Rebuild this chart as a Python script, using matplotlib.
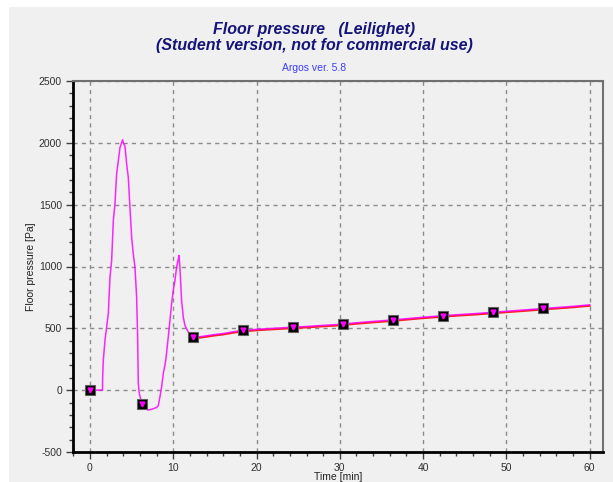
import matplotlib
matplotlib.use("Agg")
import matplotlib.pyplot as plt
from matplotlib.patches import Rectangle
from matplotlib.ticker import MultipleLocator

# floor pressure trace [min, Pa]
time_min = [0, 1.5, 1.52, 1.6, 1.8, 2.0, 2.2, 2.4, 2.6, 2.8, 3.0, 3.2, 3.4, 3.6, 3.8,
            3.92, 4.0, 4.2, 4.4, 4.6, 4.8, 5.0, 5.2, 5.4, 5.6, 5.72, 5.8, 5.92, 6.2,
            6.6, 7.0, 7.6, 8.0, 8.2, 8.4, 8.6, 8.8, 9.1, 9.4, 9.6, 9.8, 10.0, 10.2,
            10.4, 10.6, 10.68, 10.8, 11.0, 11.2, 11.4, 11.8, 12.4, 13.0, 14.0, 15.0,
            16.0, 17.0, 18.0, 20.0, 22.0, 24.0, 26.0, 28.0, 30.0, 32.0, 34.0, 36.0,
            38.0, 40.0, 42.0, 44.0, 46.0, 48.0, 50.0, 52.0, 54.0, 56.0, 58.0, 60.0]
pressure_pa = [0, 0, 107, 242, 403, 510, 620, 913, 1048, 1370, 1507, 1749, 1854, 1961, 2001,
               2025, 2000, 1975, 1830, 1720, 1477, 1236, 1102, 994, 752, 430, 55, -27, -100,
               -145, -161, -150, -140, -125, -54, 27, 134, 242, 430, 564, 698, 806, 886,
               994, 1060, 1090, 994, 725, 591, 524, 470, 438, 430, 440, 450,
               458, 470, 480, 492, 500, 508, 515, 524, 532, 545, 556, 566,
               578, 590, 600, 610, 618, 628, 638, 648, 658, 668, 678, 690]

# second sensor, settled part only
ref_time_min = [12.4, 13.0, 14.0, 15.0, 16.0, 17.0, 18.0, 20.0, 22.0, 24.0, 26.0, 28.0,
                30.0, 32.0, 34.0, 36.0, 38.0, 40.0, 42.0, 44.0, 46.0, 48.0, 50.0, 52.0,
                54.0, 56.0, 58.0, 60.0]
ref_pressure_pa = [430, 422, 432, 442, 450, 462, 472, 484, 492, 500, 507, 516,
                   524, 537, 548, 558, 570, 582, 592, 602, 610, 620, 630, 640,
                   650, 660, 670, 682]

# logged sample points
sample_time_min = [0.0, 6.24, 12.4, 18.4, 24.4, 30.4, 36.4, 42.4, 48.4, 54.4]
sample_pressure_pa = [0, -113, 430, 484, 508, 532, 564, 596, 629, 661]

bg = "#f0f0f0"
plt.rcParams["font.family"] = ["Liberation Sans", "DejaVu Sans"]
plt.rcParams["axes.unicode_minus"] = False

fig = plt.figure(figsize=(6.13, 4.82), dpi=100, facecolor="white")
fig.patches.append(Rectangle((9 / 613, 0), 1, 1 - 7 / 482, transform=fig.transFigure,
                             facecolor=bg, edgecolor="none", zorder=-10))

ax = fig.add_axes([73 / 613, 30 / 482, 530 / 613, 371 / 482])
ax.set_facecolor(bg)

ax.plot(ref_time_min, ref_pressure_pa, color="#ff2020", lw=1.4, zorder=3)
ax.plot(time_min, pressure_pa, color="#ff00ff", lw=1.1, alpha=0.85, zorder=4)
ax.plot(sample_time_min, sample_pressure_pa, ls="none", marker="s", ms=6.5,
        mfc="black", mec="#606060", mew=0.8, zorder=5)
ax.plot(sample_time_min, sample_pressure_pa, ls="none", marker="v", ms=3.5,
        mfc="#ff00ff", mec="#ff00ff", zorder=6)

ax.set_xlim(-2.04, 61.6)
ax.set_ylim(-500, 2500)
ax.xaxis.set_major_locator(MultipleLocator(10))
ax.xaxis.set_minor_locator(MultipleLocator(2))
ax.yaxis.set_major_locator(MultipleLocator(500))
ax.yaxis.set_minor_locator(MultipleLocator(100))

ax.grid(True, which="major", color="#8c8c8c", ls=(0, (3, 3)), lw=1.0)
ax.set_axisbelow(True)

for side in ("left", "bottom"):
    ax.spines[side].set_color("black")
    ax.spines[side].set_linewidth(2.0)
for side in ("top", "right"):
    ax.spines[side].set_color("#707070")
    ax.spines[side].set_linewidth(1.5)

ax.tick_params(which="major", length=5, width=1, color="#404040",
               labelsize=7.5, labelcolor="#303030", pad=3)
ax.tick_params(which="minor", length=3, width=1, color="#404040")

ax.set_xlabel("Time [min]", fontsize=7.5, color="#202020", labelpad=-1)
ax.set_ylabel("Floor pressure [Pa]", fontsize=7.5, color="#202020", labelpad=2)

fig.text(314 / 613, 1 - 22 / 482, "Floor pressure   (Leilighet)\n(Student version, not for commercial use)",
         ha="center", va="top", fontsize=11.5, fontweight="bold", fontstyle="italic",
         color="#14147a", linespacing=1.05)
fig.text(314 / 613, 1 - 68 / 482, "Argos ver. 5.8", ha="center", va="center",
         fontsize=7.5, color="#3c3cff")

fig.savefig("out.png", dpi=100, facecolor=fig.get_facecolor())
